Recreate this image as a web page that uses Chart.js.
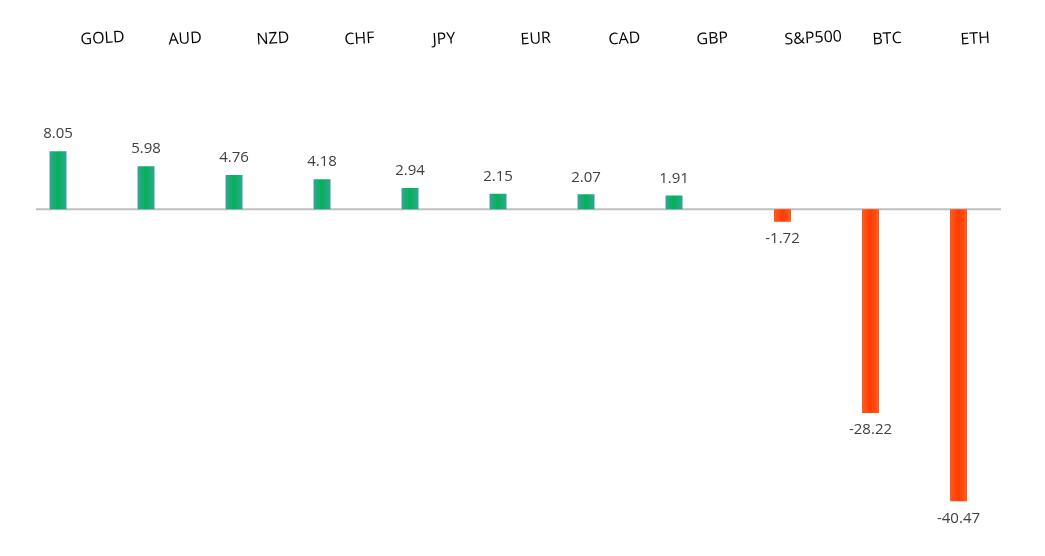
<!DOCTYPE html>
<html lang="en">
<head>
  <meta charset="UTF-8">
  <title>Performance</title>
  <script src="https://cdn.jsdelivr.net/npm/chart.js"></script>
  <style>
    body { margin: 0; background: #fff; }
    #wrap { width: 1045px; height: 556px; position: relative; }
  </style>
</head>
<body>
  <div id="wrap"><canvas id="myChart"></canvas></div>

  <script>
    const categories = ['GOLD', 'AUD', 'NZD', 'CHF', 'JPY', 'EUR', 'CAD', 'GBP', 'S&P500', 'BTC', 'ETH'];
    const values = [8.05, 5.98, 4.76, 4.18, 2.94, 2.15, 2.07, 1.91, -1.72, -28.22, -40.47];

    // up-moves sit left in their slot (a second empty slot beside them), down-moves are centred
    const gains = values.map(v => v > 0 ? v : null);
    const losses = values.map(v => v < 0 ? v : 0);

    const CAT_PCT = 0.93;

    function barGradient(ctx, edge, mid) {
      const chart = ctx.chart;
      const x = chart.scales.x;
      if (!chart.chartArea || !x) return mid;
      const slot = x.width / categories.length;
      let cx = x.getPixelForValue(ctx.dataIndex);
      if (ctx.datasetIndex === 0) cx -= slot * CAT_PCT / 4;
      const g = chart.ctx.createLinearGradient(cx - 9, 0, cx + 9, 0);
      g.addColorStop(0, edge);
      g.addColorStop(0.5, mid);
      g.addColorStop(1, edge);
      return g;
    }

    const labelPlugin = {
      id: 'labels',
      beforeDatasetsDraw(chart) {
        const c = chart.ctx;
        const y0 = chart.scales.y.getPixelForValue(0);
        c.save();
        c.strokeStyle = '#bfbfbf';
        c.lineWidth = 2;
        c.beginPath();
        c.moveTo(36, y0);
        c.lineTo(1001, y0);
        c.stroke();
        c.restore();
      },
      afterDraw(chart) {
        const c = chart.ctx;
        const x = chart.scales.x;
        c.save();
        // category names across the top, slightly tilted
        c.font = '16px "Open Sans"';
        c.fillStyle = '#000';
        c.textAlign = 'left';
        c.textBaseline = 'middle';
        categories.forEach((name, i) => {
          c.save();
          c.translate(x.getPixelForValue(i) + 2, 40);
          c.rotate(-0.06);
          c.fillText(name, 0, 0);
          c.restore();
        });
        // value labels
        c.font = '15px "Open Sans"';
        c.fillStyle = '#404040';
        c.textAlign = 'center';
        chart.data.datasets.forEach((ds, di) => {
          chart.getDatasetMeta(di).data.forEach((bar, i) => {
            const v = ds.data[i];
            if (v === null || v === 0) return;
            const yy = v > 0 ? bar.y - 17 : bar.y + 17;
            c.fillText(v.toFixed(2), bar.x, yy);
          });
        });
        c.restore();
      }
    };

    new Chart(document.getElementById('myChart'), {
      type: 'bar',
      data: {
        labels: categories,
        datasets: [
          {
            data: gains,
            backgroundColor: ctx => barGradient(ctx, '#36a39c', '#03b156')
          },
          {
            data: losses,
            backgroundColor: ctx => barGradient(ctx, '#ff5d22', '#ff3c00')
          }
        ]
      },
      options: {
        responsive: true,
        maintainAspectRatio: false,
        animation: false,
        skipNull: true,
        categoryPercentage: CAT_PCT,
        barPercentage: 0.415,
        maxBarThickness: 17,
        layout: { padding: { left: 34.5, right: 42.5, top: 65, bottom: 22 } },
        plugins: { legend: { display: false }, tooltip: { enabled: false } },
        scales: {
          x: { display: false },
          y: { display: false, min: -45, max: 20 }
        }
      },
      plugins: [labelPlugin]
    });
  </script>
</body>
</html>
